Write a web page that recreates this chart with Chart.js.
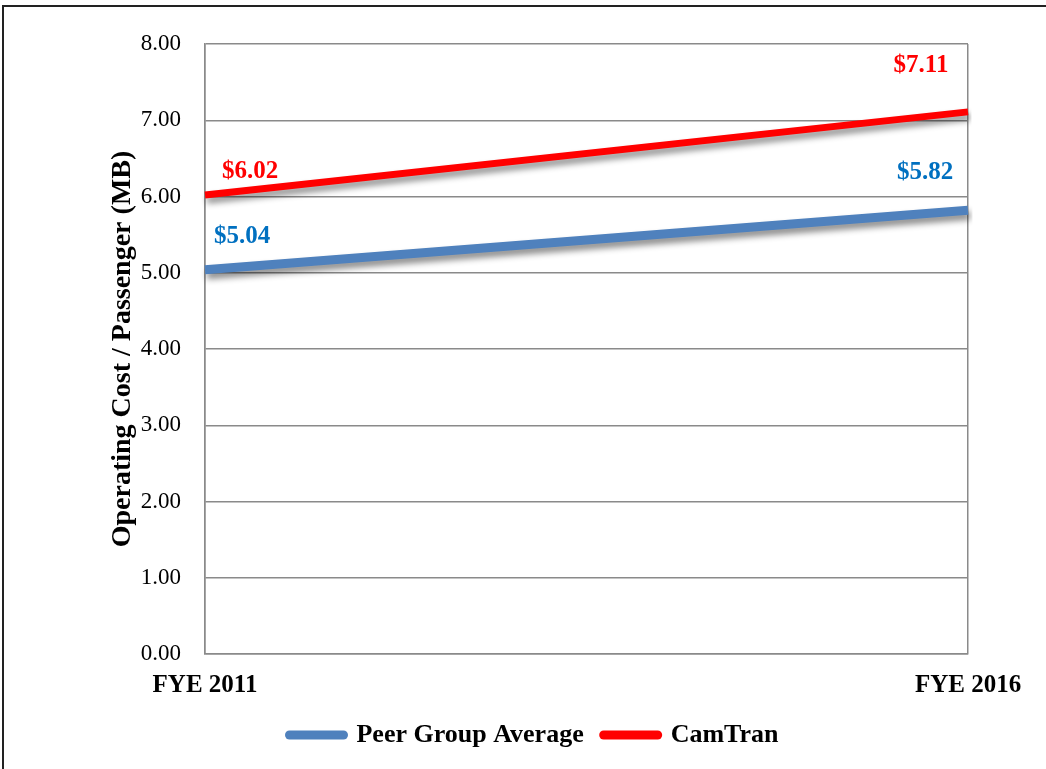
<!DOCTYPE html>
<html>
<head>
<meta charset="utf-8">
<script src="https://cdn.jsdelivr.net/npm/chart.js@4/dist/chart.umd.min.js"></script>
<style>
    body { margin: 0; background: #fff; overflow: hidden; }
    #wrap { position: relative; width: 1046px; height: 769px; }
    #frame {
        position: absolute; left: 2px; top: 5px; width: 1100px; height: 800px;
        border-top: 2px solid #222; border-left: 2px solid #222; pointer-events: none;
    }
</style>
</head>
<body>
<div id="wrap">
    <canvas id="grafico" width="1046" height="769"></canvas>
    <div id="frame"></div>
</div>
<script>
// Dados do gráfico
const anos = ['FYE 2011', 'FYE 2016'];
const mediaPares = [5.04, 5.82];
const camTran = [6.02, 7.11];
const nomesSeries = ['Peer Group Average', 'CamTran'];
const yTicks = [0, 1, 2, 3, 4, 5, 6, 7, 8];

// Cores e fontes
const fonte = "'Liberation Serif', 'DejaVu Serif', serif";
const corAzul = '#4F81BD';
const corVermelha = '#FF0000';
const corGrade = '#8a8a8a';

// Deslocamento dos rótulos de valor (px), por série e ponto
const deslocRotulos = [
    [[37, -33], [-43, -38]],
    [[45, -23], [-47, -46]]
];
const coresRotulos = ['#0070C0', '#FF0000'];

// Sombra das linhas
const sombraPlugin = {
    id: 'sombra',
    beforeDatasetDraw(chart) {
        const ctx = chart.ctx;
        ctx.save();
        ctx.shadowColor = 'rgba(0, 0, 0, 0.45)';
        ctx.shadowBlur = 6;
        ctx.shadowOffsetX = 2;
        ctx.shadowOffsetY = 5;
    },
    afterDatasetDraw(chart) {
        chart.ctx.restore();
    }
};

// Rótulos de valor
const rotulosPlugin = {
    id: 'rotulos',
    afterDatasetsDraw(chart) {
        const ctx = chart.ctx;
        ctx.save();
        ctx.font = 'bold 25px ' + fonte;
        ctx.textAlign = 'center';
        ctx.textBaseline = 'middle';
        chart.data.datasets.forEach((ds, i) => {
            const meta = chart.getDatasetMeta(i);
            meta.data.forEach((pt, j) => {
                const [dx, dy] = deslocRotulos[i][j];
                ctx.fillStyle = coresRotulos[i];
                ctx.fillText('$' + ds.data[j].toFixed(2), pt.x + dx, pt.y + dy);
            });
        });
        ctx.restore();
    }
};

const ctx = document.getElementById('grafico').getContext('2d');

new Chart(ctx, {
    type: 'line',
    data: {
        labels: anos,
        datasets: [
            {
                label: nomesSeries[0],
                data: mediaPares,
                borderColor: corAzul,
                backgroundColor: corAzul,
                borderWidth: 9,
                pointRadius: 0,
                pointStyle: 'line',
                tension: 0
            },
            {
                label: nomesSeries[1],
                data: camTran,
                borderColor: corVermelha,
                backgroundColor: corVermelha,
                borderWidth: 7,
                pointRadius: 0,
                pointStyle: 'line',
                tension: 0
            }
        ]
    },
    options: {
        responsive: false,
        animation: false,
        devicePixelRatio: 1,
        layout: {
            padding: { left: 100, right: 78, top: 44, bottom: 11 }
        },
        scales: {
            x: {
                type: 'category',
                offset: false,
                grid: { color: corGrade, lineWidth: 1.5, drawTicks: false },
                border: { color: corGrade, width: 1.5 },
                ticks: {
                    color: '#000',
                    padding: 17,
                    maxRotation: 0,
                    font: { family: fonte, size: 25, weight: 'bold' }
                },
                afterFit(scale) { scale.height = 48; }
            },
            y: {
                min: 0,
                max: 8,
                afterBuildTicks(scale) {
                    scale.ticks = yTicks.map(v => ({ value: v }));
                },
                grid: { color: corGrade, lineWidth: 1.5, drawTicks: false },
                border: { color: corGrade, width: 1.5 },
                ticks: {
                    color: '#000',
                    padding: 24,
                    font: { family: fonte, size: 23 },
                    callback: v => Number(v).toFixed(2)
                },
                title: {
                    display: true,
                    text: 'Operating Cost / Passenger (MB)',
                    color: '#000',
                    padding: { top: 6, bottom: 0 },
                    font: { family: fonte, size: 28, weight: 'bold' }
                },
                afterFit(scale) { scale.width = 105; }
            }
        },
        plugins: {
            legend: {
                position: 'bottom',
                labels: {
                    color: '#000',
                    padding: 20,
                    usePointStyle: true,
                    pointStyle: 'line',
                    pointStyleWidth: 54,
                    font: { family: fonte, size: 26, weight: 'bold' },
                    generateLabels(chart) {
                        const itens = Chart.defaults.plugins.legend.labels.generateLabels(chart);
                        return itens.map(it => Object.assign(it, {
                            lineWidth: 9,
                            lineCap: 'round',
                            pointStyle: 'line'
                        }));
                    }
                }
            },
            tooltip: { enabled: false }
        }
    },
    plugins: [sombraPlugin, rotulosPlugin]
});
</script>
</body>
</html>
